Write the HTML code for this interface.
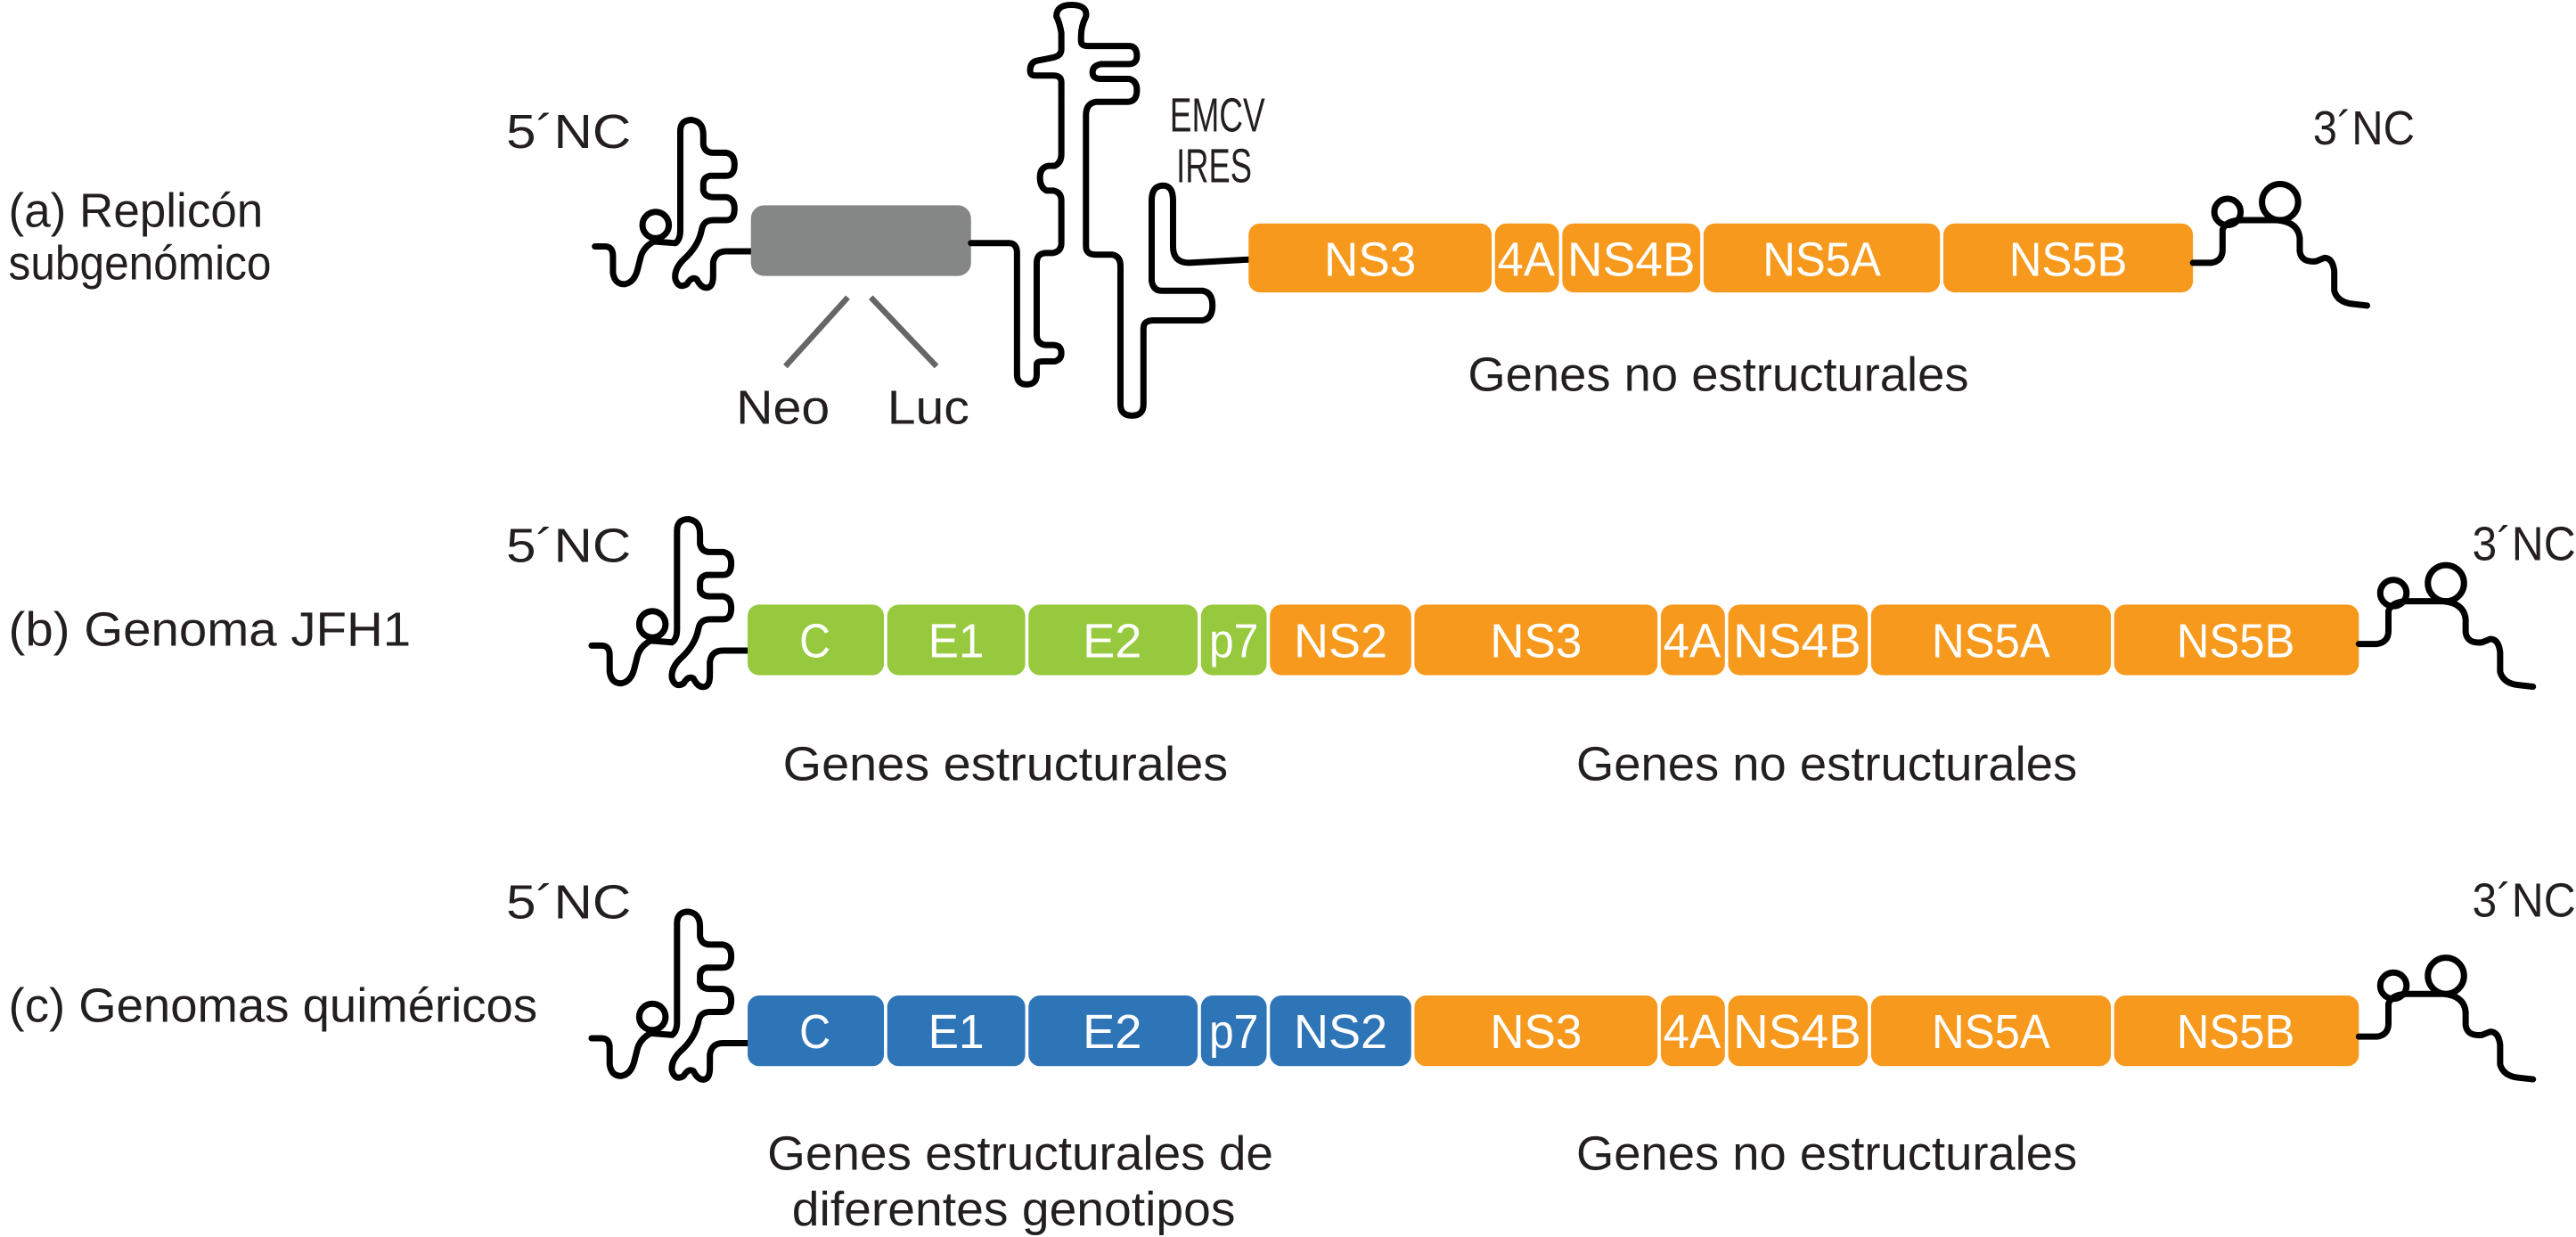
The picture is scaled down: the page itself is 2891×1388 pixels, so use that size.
<!DOCTYPE html>
<html><head><meta charset="utf-8"><style>
html,body{margin:0;padding:0;background:#fff;}
svg{display:block;}
text{font-family:"Liberation Sans",sans-serif;}
.lbl{font-size:29px;fill:#231f20;}
.w{font-size:29px;fill:#fff;text-anchor:middle;}
.rna{fill:none;stroke:#000;stroke-width:3.8;stroke-linecap:round;stroke-linejoin:round;}
</style></head><body>
<svg width="2891" height="1388" viewBox="0 0 1568 753" xmlns="http://www.w3.org/2000/svg">
<defs>
<g id="five">
<path class="rna" d="M362,150 H368 Q373,150 373,156 V166 Q374,173 380,173 Q386,172 388,164 L390,156 Q392,150 398,147 L411,148 Q414,146 414,140 V80 Q414,73 421,73 Q428,74 428,82 V88 Q429,93 434,93 H442 Q447,94 447,100 Q447,107 442,107 H432 Q428,108 428,112 V116 Q429,120 434,120 H442 Q447,121 447,127 Q447,134 442,134 H434 Q428,134 427,140 Q425,150 416,158 Q410,164 411,170 Q413,176 418,173 Q421,168 424,170 Q427,176 431,175 Q434,174 434,168 V160 Q435,153 442,153 H457"/>
<circle class="rna" cx="399" cy="137" r="8"/>
</g>
<g id="three">
<path class="rna" d="M1335,160 H1346 Q1353,159 1353,152 V140 Q1355,134 1365,134 H1386 Q1399,135 1400,145 V153 Q1401,160 1410,159 L1415,157 Q1420,157 1421,165 V177 Q1423,184 1432,185 L1441,186"/>
<circle class="rna" cx="1356" cy="129" r="8"/>
<circle class="rna" cx="1388" cy="123" r="11"/>
</g>
</defs>

<!-- Row a -->
<text class="lbl" x="308" y="90" textLength="76" lengthAdjust="spacingAndGlyphs">5´NC</text>
<text class="lbl" x="5" y="138" textLength="155" lengthAdjust="spacingAndGlyphs">(a) Replicón</text>
<text class="lbl" x="5" y="170" textLength="160" lengthAdjust="spacingAndGlyphs">subgenómico</text>
<use href="#five"/>
<rect x="457" y="125" width="134" height="43" rx="8" fill="#848786"/>
<line x1="516" y1="181" x2="478" y2="223" stroke="#666" stroke-width="3.5"/>
<line x1="530" y1="181" x2="570" y2="223" stroke="#666" stroke-width="3.5"/>
<text class="lbl" x="448" y="258" textLength="57" lengthAdjust="spacingAndGlyphs">Neo</text>
<text class="lbl" x="540" y="258" textLength="50" lengthAdjust="spacingAndGlyphs">Luc</text>
<path class="rna" d="M591,148 H614 Q619,148 619,154 V228 Q619,234 625,234 Q631,234 631,228 V222 Q631,220 635,220 H642 Q646,219 646,215 Q646,210 641,210 H636 Q631,209 631,204 V160 Q631,154 637,154 H641 Q646,153 646,148 V122 Q646,117 641,116 H637 Q633,114 633,108 Q633,102 638,101 H642 Q646,99 646,94 V50 Q646,46 641,46 H630 Q627,46 627,43 Q627,38 631,37 L641,35 Q646,34 646,30 V20 Q645,14 643,10 Q643,3 652,3 Q662,3 661,10 Q658,16 658,22 V25 Q658,28 662,28 H687 Q692,28 692,34 Q692,39 687,39 H670 Q665,40 665,44 Q665,48 670,48 H687 Q692,49 692,55 Q692,62 686,62 H667 Q661,63 661,70 V150 Q661,155 667,155 H677 Q682,156 682,162 V246 Q682,253 689,253 Q696,253 696,246 V200 Q696,195 702,195 H732 Q738,194 738,186 Q738,178 732,177 H707 Q702,177 701,171 V122 Q701,113 708,113 Q714,113 714,122 V150 Q714,160 724,160 L760,158"/>
<text class="lbl" x="712" y="80" textLength="58" lengthAdjust="spacingAndGlyphs">EMCV</text>
<text class="lbl" x="716" y="111" textLength="46" lengthAdjust="spacingAndGlyphs">IRES</text>
<g>
<rect x="760" y="136" width="148" height="42" rx="7" fill="#f7991c"/>
<rect x="910" y="136" width="39" height="42" rx="7" fill="#f7991c"/>
<rect x="951" y="136" width="84" height="42" rx="7" fill="#f7991c"/>
<rect x="1037" y="136" width="144" height="42" rx="7" fill="#f7991c"/>
<rect x="1183" y="136" width="152" height="42" rx="7" fill="#f7991c"/>
<text class="w" x="834" y="168" textLength="56" lengthAdjust="spacingAndGlyphs">NS3</text>
<text class="w" x="929" y="168" textLength="35" lengthAdjust="spacingAndGlyphs">4A</text>
<text class="w" x="993" y="168" textLength="78" lengthAdjust="spacingAndGlyphs">NS4B</text>
<text class="w" x="1109" y="168" textLength="72" lengthAdjust="spacingAndGlyphs">NS5A</text>
<text class="w" x="1259" y="168" textLength="72" lengthAdjust="spacingAndGlyphs">NS5B</text>
</g>
<use href="#three"/>
<text class="lbl" x="1408" y="88" textLength="62" lengthAdjust="spacingAndGlyphs">3´NC</text>
<text class="lbl" x="1046" y="238" text-anchor="middle" textLength="305" lengthAdjust="spacingAndGlyphs">Genes no estructurales</text>

<!-- Row b -->
<text class="lbl" x="308" y="342" textLength="76" lengthAdjust="spacingAndGlyphs">5´NC</text>
<text class="lbl" x="1505" y="341" textLength="63" lengthAdjust="spacingAndGlyphs">3´NC</text>
<text class="lbl" x="5" y="393" textLength="245" lengthAdjust="spacingAndGlyphs">(b) Genoma JFH1</text>
<use href="#five" transform="translate(-2,243)"/>
<g>
<rect x="455" y="368" width="83" height="43" rx="7" fill="#96c93d"/>
<rect x="540" y="368" width="84" height="43" rx="7" fill="#96c93d"/>
<rect x="626" y="368" width="103" height="43" rx="7" fill="#96c93d"/>
<rect x="731" y="368" width="40" height="43" rx="7" fill="#96c93d"/>
<rect x="773" y="368" width="86" height="43" rx="7" fill="#f7991c"/>
<rect x="861" y="368" width="148" height="43" rx="7" fill="#f7991c"/>
<rect x="1011" y="368" width="39" height="43" rx="7" fill="#f7991c"/>
<rect x="1052" y="368" width="85" height="43" rx="7" fill="#f7991c"/>
<rect x="1139" y="368" width="146" height="43" rx="7" fill="#f7991c"/>
<rect x="1287" y="368" width="149" height="43" rx="7" fill="#f7991c"/>
<text class="w" x="496" y="400" textLength="19" lengthAdjust="spacingAndGlyphs">C</text>
<text class="w" x="582" y="400" textLength="34" lengthAdjust="spacingAndGlyphs">E1</text>
<text class="w" x="677" y="400" textLength="36" lengthAdjust="spacingAndGlyphs">E2</text>
<text class="w" x="751" y="400" textLength="30" lengthAdjust="spacingAndGlyphs">p7</text>
<text class="w" x="816" y="400" textLength="57" lengthAdjust="spacingAndGlyphs">NS2</text>
<text class="w" x="935" y="400" textLength="56" lengthAdjust="spacingAndGlyphs">NS3</text>
<text class="w" x="1030" y="400" textLength="35" lengthAdjust="spacingAndGlyphs">4A</text>
<text class="w" x="1094" y="400" textLength="78" lengthAdjust="spacingAndGlyphs">NS4B</text>
<text class="w" x="1212" y="400" textLength="72" lengthAdjust="spacingAndGlyphs">NS5A</text>
<text class="w" x="1361" y="400" textLength="72" lengthAdjust="spacingAndGlyphs">NS5B</text>
</g>
<use href="#three" transform="translate(101,232)"/>
<text class="lbl" x="612" y="475" text-anchor="middle" textLength="271" lengthAdjust="spacingAndGlyphs">Genes estructurales</text>
<text class="lbl" x="1112" y="475" text-anchor="middle" textLength="305" lengthAdjust="spacingAndGlyphs">Genes no estructurales</text>

<!-- Row c -->
<text class="lbl" x="308" y="559" textLength="76" lengthAdjust="spacingAndGlyphs">5´NC</text>
<text class="lbl" x="1505" y="558" textLength="63" lengthAdjust="spacingAndGlyphs">3´NC</text>
<text class="lbl" x="5" y="622" textLength="322" lengthAdjust="spacingAndGlyphs">(c) Genomas quiméricos</text>
<use href="#five" transform="translate(-2,482)"/>
<g>
<rect x="455" y="606" width="83" height="43" rx="7" fill="#2e75b8"/>
<rect x="540" y="606" width="84" height="43" rx="7" fill="#2e75b8"/>
<rect x="626" y="606" width="103" height="43" rx="7" fill="#2e75b8"/>
<rect x="731" y="606" width="40" height="43" rx="7" fill="#2e75b8"/>
<rect x="773" y="606" width="86" height="43" rx="7" fill="#2e75b8"/>
<rect x="861" y="606" width="148" height="43" rx="7" fill="#f7991c"/>
<rect x="1011" y="606" width="39" height="43" rx="7" fill="#f7991c"/>
<rect x="1052" y="606" width="85" height="43" rx="7" fill="#f7991c"/>
<rect x="1139" y="606" width="146" height="43" rx="7" fill="#f7991c"/>
<rect x="1287" y="606" width="149" height="43" rx="7" fill="#f7991c"/>
<text class="w" x="496" y="638" textLength="19" lengthAdjust="spacingAndGlyphs">C</text>
<text class="w" x="582" y="638" textLength="34" lengthAdjust="spacingAndGlyphs">E1</text>
<text class="w" x="677" y="638" textLength="36" lengthAdjust="spacingAndGlyphs">E2</text>
<text class="w" x="751" y="638" textLength="30" lengthAdjust="spacingAndGlyphs">p7</text>
<text class="w" x="816" y="638" textLength="57" lengthAdjust="spacingAndGlyphs">NS2</text>
<text class="w" x="935" y="638" textLength="56" lengthAdjust="spacingAndGlyphs">NS3</text>
<text class="w" x="1030" y="638" textLength="35" lengthAdjust="spacingAndGlyphs">4A</text>
<text class="w" x="1094" y="638" textLength="78" lengthAdjust="spacingAndGlyphs">NS4B</text>
<text class="w" x="1212" y="638" textLength="72" lengthAdjust="spacingAndGlyphs">NS5A</text>
<text class="w" x="1361" y="638" textLength="72" lengthAdjust="spacingAndGlyphs">NS5B</text>
</g>
<use href="#three" transform="translate(101,471)"/>
<text class="lbl" x="621" y="712" text-anchor="middle" textLength="308" lengthAdjust="spacingAndGlyphs">Genes estructurales de</text>
<text class="lbl" x="617" y="746" text-anchor="middle" textLength="270" lengthAdjust="spacingAndGlyphs">diferentes genotipos</text>
<text class="lbl" x="1112" y="712" text-anchor="middle" textLength="305" lengthAdjust="spacingAndGlyphs">Genes no estructurales</text>
</svg>
</body></html>
